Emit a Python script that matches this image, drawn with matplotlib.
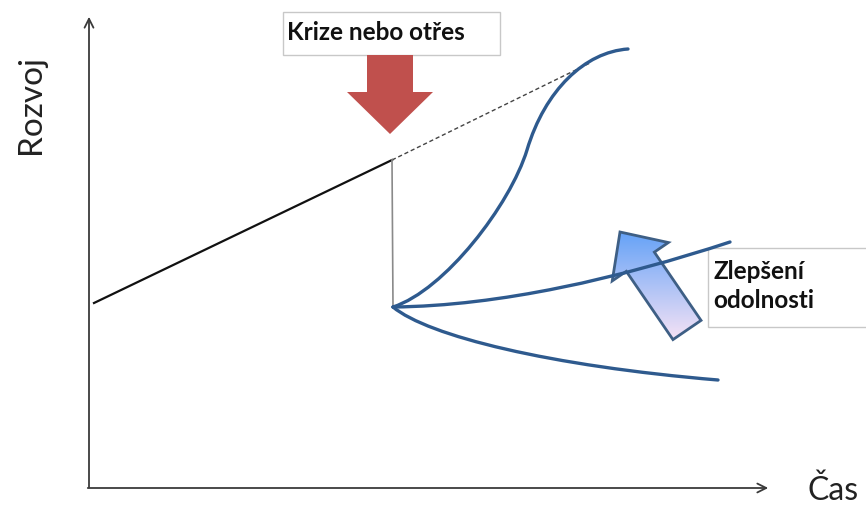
import numpy as np
import matplotlib.pyplot as plt
import matplotlib.patches as mpatches
from matplotlib.path import Path

# diagram coordinates are in picture pixels (y grows downward)
trend_x = [94, 392]
trend_y = [303, 160]
dashed_x = [392, 590]
dashed_y = [160, 63]
drop_x = [392, 393]
drop_y = [160, 307]

# blue recovery curves as cubic bezier control points
curve_up = [(393, 307), (445, 290), (510, 205), (527, 150),
            (545, 90), (585, 52), (628, 49)]
curve_mid = [(393, 307), (500, 306), (620, 278), (730, 242)]
curve_down = [(393, 307), (428, 336), (550, 366), (718, 380)]

crisis_label = "Krize nebo otřes"
resilience_label = "Zlepšení\nodolnosti"
y_label = "Rozvoj"
x_label = "Čas"

blue = "#2e5a8e"
red = "#c0504d"

plt.rcParams['font.family'] = ['Lato', 'DejaVu Sans']

fig = plt.figure(figsize=(8.66, 5.05), dpi=100)
ax = fig.add_axes([0, 0, 1, 1])
ax.set_xlim(0, 866)
ax.set_ylim(505, 0)
ax.axis('off')

# axes with arrows
ax.annotate("", xy=(89, 14), xytext=(89, 490),
            arrowprops=dict(arrowstyle='->', color='#3a3a3a', lw=1.3,
                            mutation_scale=16))
ax.annotate("", xy=(771, 488), xytext=(85, 488),
            arrowprops=dict(arrowstyle='->', color='#3a3a3a', lw=1.3,
                            mutation_scale=16))
ax.text(31, 104, y_label, rotation=90, fontsize=24, ha='center', va='center',
        color='#222222')
ax.text(833, 491, x_label, fontsize=23, ha='center', va='center',
        color='#222222')

# development line and the crisis drop
ax.plot(trend_x, trend_y, color='#111111', lw=1.6)
ax.plot(dashed_x, dashed_y, color='#444444', lw=1.0, ls=(0, (3, 2)))
ax.plot(drop_x, drop_y, color='#8a8a8a', lw=1.2)


def bez(points):
    codes = [Path.MOVETO] + [Path.CURVE4] * (len(points) - 1)
    return mpatches.PathPatch(Path(points, codes), fill=False, ec=blue,
                              lw=2.4, capstyle='round', zorder=5)


for c in (curve_up, curve_mid, curve_down):
    ax.add_patch(bez(c))

# crisis label and red arrow
ax.add_patch(mpatches.Rectangle((283, 12), 217, 43, fc='white',
                                ec='#c8c8c8', lw=1))
ax.text(287, 32, crisis_label, fontsize=17.5, fontweight='bold', ha='left',
        va='center', color='#111111')
ax.add_patch(mpatches.FancyArrow(390, 55, 0, 79, width=46, head_width=86,
                                 head_length=42, length_includes_head=True,
                                 fc=red, ec='none'))

# resilience arrow with gradient fill
arrow_kw = dict(width=34, head_width=68, head_length=36,
                length_includes_head=True)
arr = mpatches.FancyArrow(687, 330, -67, -98, fc='none', ec='#3e5f85',
                          lw=2, zorder=4, **arrow_kw)
ax.add_patch(arr)
grad = np.linspace(0, 1, 100).reshape(-1, 1)
top = np.array([0.36, 0.62, 0.97])
bottom = np.array([0.99, 0.90, 0.96])
img = top + grad[..., None] * (bottom - top)
im = ax.imshow(img, extent=(590, 720, 345, 225), aspect='auto', zorder=3)
clip = mpatches.FancyArrow(687, 330, -67, -98, transform=ax.transData,
                           **arrow_kw)
im.set_clip_path(clip)
ax.set_xlim(0, 866)
ax.set_ylim(505, 0)

ax.add_patch(mpatches.Rectangle((708, 248), 170, 79, fc='white',
                                ec='#c8c8c8', lw=1, zorder=2))
ax.text(713, 286, resilience_label, fontsize=17.5, fontweight='bold',
        ha='left', va='center', color='#111111', linespacing=1.3, zorder=2)

fig.savefig('out.png', dpi=100)
